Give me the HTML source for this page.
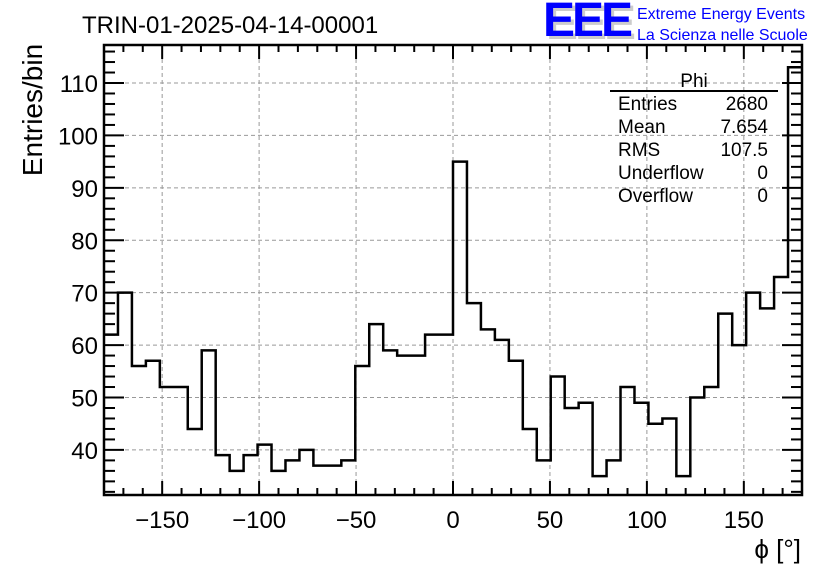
<!DOCTYPE html>
<html><head><meta charset="utf-8"><style>
html,body{margin:0;padding:0;background:#fff;}
svg{display:block;font-family:"Liberation Sans",sans-serif;}
</style></head><body>
<svg id="chart" width="836" height="572" viewBox="0 0 836 572">
<rect width="836" height="572" fill="#fff"/>
<g id="grid"></g>
<g id="hist"></g>
<g id="axes"></g>
<text x="82" y="33" font-size="24">TRIN-01-2025-04-14-00001</text>
<g>
<text x="546" y="39" font-size="48" fill="#ccc" font-weight="bold" letter-spacing="-3">EEE</text>
<text x="543" y="36" font-size="48" fill="#0000ff" font-weight="bold" letter-spacing="-3">EEE</text>
<text x="637" y="19" font-size="16" fill="#0000ff">Extreme Energy Events</text>
<text x="637" y="40" font-size="16" fill="#0000ff">La Scienza nelle Scuole</text>
</g>
<text transform="translate(42,110) rotate(-90)" text-anchor="middle" font-size="28">Entries/bin</text>
<text x="801" y="558" text-anchor="end" font-size="26">ϕ [°]</text>
<g font-size="19">
<text x="694" y="87" text-anchor="middle">Phi</text>
<line x1="610" y1="91" x2="778" y2="91" stroke="#000" stroke-width="2"/>
<text x="618" y="110">Entries</text><text x="768" y="110" text-anchor="end">2680</text>
<text x="618" y="133">Mean</text><text x="768" y="133" text-anchor="end">7.654</text>
<text x="618" y="156">RMS</text><text x="768" y="156" text-anchor="end">107.5</text>
<text x="618" y="179">Underflow</text><text x="768" y="179" text-anchor="end">0</text>
<text x="618" y="202">Overflow</text><text x="768" y="202" text-anchor="end">0</text>
</g>
</svg>
<script>
const counts = [62,70,56,57,52,52,44,59,39,36,39,41,36,38,40,37,37,38,56,64,59,58,58,62,62,
                95,68,63,61,57,44,38,54,48,49,35,38,52,49,45,46,35,50,52,66,60,70,67,73,113];
const xMin = -180, xMax = 180;
const yMin = 31.4, yMax = 117.25;
const xTicks = [-150,-100,-50,0,50,100,150];
const yTicks = [40,50,60,70,80,90,100,110];
const L=104,R=802,T=45,B=495;
const NS="http://www.w3.org/2000/svg";
function X(v){return L+(v-xMin)/(xMax-xMin)*(R-L);}
function Y(v){return B-(v-yMin)/(yMax-yMin)*(B-T);}
function mk(tag,attrs,parent){const e=document.createElementNS(NS,tag);for(const k in attrs)e.setAttribute(k,attrs[k]);parent.appendChild(e);return e;}
const grid=document.getElementById('grid'),hist=document.getElementById('hist'),axes=document.getElementById('axes');
xTicks.forEach(t=>{
  const l=mk('line',{x1:X(t),x2:X(t),y1:T,y2:B,stroke:'#999','stroke-dasharray':'4,3','stroke-width':1},grid);
  
  
});
yTicks.forEach(t=>{
  const l=mk('line',{x1:L,x2:R,y1:Y(t),y2:Y(t),stroke:'#999','stroke-dasharray':'4,3','stroke-width':1},grid);
  
  
});
const w=(xMax-xMin)/counts.length;
let d='M'+X(xMin)+','+Y(counts[0]);
counts.forEach((c,i)=>{d+=' L'+X(xMin+i*w)+','+Y(c)+' L'+X(xMin+(i+1)*w)+','+Y(c);});
const p=mk('path',{d:d,fill:'none',stroke:'#000','stroke-width':2.5},hist);


const fr=mk('rect',{x:L,y:T,width:R-L,height:B-T,fill:'none',stroke:'#000','stroke-width':2.5},axes);


for(let v=-180;v<=180;v+=10){
  const maj=v%50===0, len=maj?14:7;
  mk('line',{x1:X(v),x2:X(v),y1:B,y2:B-len,stroke:'#000','stroke-width':2},axes);
  mk('line',{x1:X(v),x2:X(v),y1:T,y2:T+len,stroke:'#000','stroke-width':2},axes);
}
for(let v=32;v<=116;v+=2){
  const maj=v%10===0, len=maj?20:11;
  mk('line',{x1:L,x2:L+len,y1:Y(v),y2:Y(v),stroke:'#000','stroke-width':2},axes);
  mk('line',{x1:R,x2:R-len,y1:Y(v),y2:Y(v),stroke:'#000','stroke-width':2},axes);
}
xTicks.forEach(t=>{
  const tx=mk('text',{x:X(t),y:528,'text-anchor':'middle','font-size':24},axes);
  tx.textContent=(t<0?'\u2212'+(-t):String(t));
  
  
});
yTicks.forEach(t=>{
  const tx=mk('text',{x:98,y:Y(t)+9,'text-anchor':'end','font-size':24},axes);
  tx.textContent=String(t);
  
  
});
</script>
</body></html>
